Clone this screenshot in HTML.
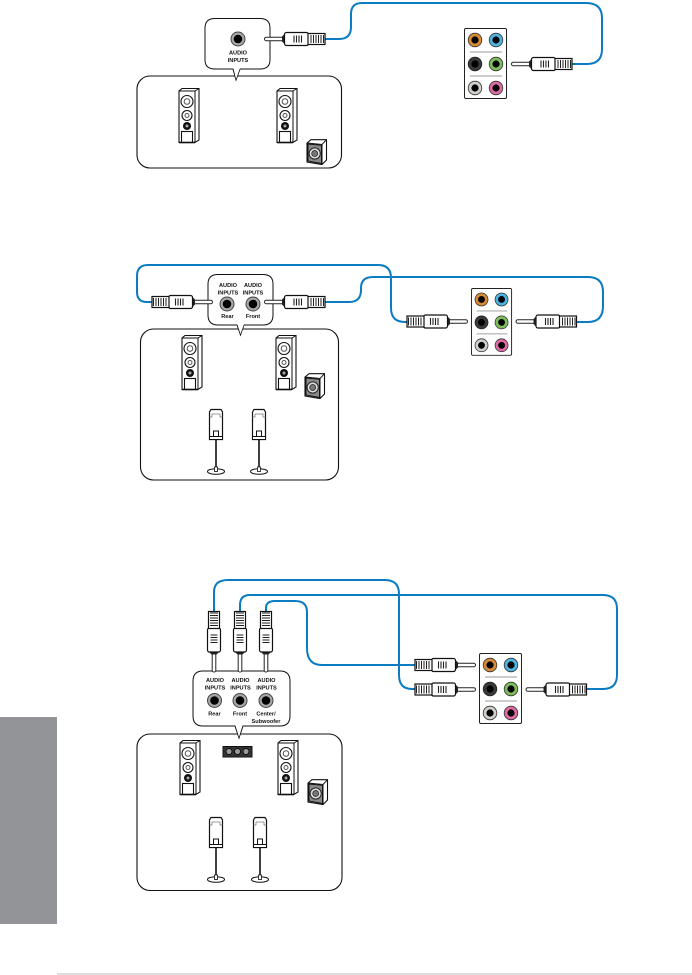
<!DOCTYPE html>
<html lang="en">
<head>
<meta charset="utf-8">
<title>Audio connections</title>
<style>
html,body{margin:0;padding:0;background:#fff}
body{width:692px;height:975px;overflow:hidden}
svg{display:block}
text{font-family:"Liberation Sans",sans-serif;font-weight:700;font-size:5.6px;text-anchor:middle;fill:#111}
</style>
</head>
<body>
<svg width="692" height="975" viewBox="0 0 692 975" xmlns="http://www.w3.org/2000/svg">
<defs>
  <g id="plug">
    <rect x="0.5" y="-1.8" width="19" height="3.6" rx="1.8" fill="#fff" stroke="#222" stroke-width="1"/>
    <path d="M18,-2.500 L21,-5.500 V5.500 L18,2.500Z" fill="#222"/>
    <rect x="20.5" y="-6.500" width="24" height="13" rx="2" fill="#fff" stroke="#111" stroke-width="1.2"/>
    <path d="M30,-3.500V3.500M32.500,-3.500V3.500M35,-3.500V3.500M37.500,-3.500V3.500" stroke="#222" stroke-width="1.1"/>
    <rect x="44" y="-5.500" width="17" height="11" fill="#fff" stroke="#111" stroke-width="1.2"/>
    <path d="M47,-4V4M49.500,-4V4M52,-4V4M54.500,-4V4M57,-4V4M59.500,-4V4" stroke="#222" stroke-width="1"/>
  </g>
  <g id="tower">
    <path d="M4,0.500 H21 V52 L17,54.500 H1 V3Z" fill="#fff" stroke="#111" stroke-width="1.100"/>
    <path d="M1,3 H17 V54.500 M17,3 L21,0.500" fill="none" stroke="#111" stroke-width="1"/>
    <circle cx="9" cy="13.500" r="6" fill="#fff" stroke="#111" stroke-width="1.100"/>
    <circle cx="9" cy="13.500" r="2.800" fill="#fff" stroke="#555" stroke-width="1"/>
    <circle cx="9" cy="27.500" r="5" fill="#fff" stroke="#111" stroke-width="1.100"/>
    <circle cx="9" cy="27.500" r="2" fill="#fff" stroke="#555" stroke-width="1"/>
    <circle cx="9" cy="38" r="4" fill="#111"/>
    <circle cx="9" cy="38" r="1.500" fill="#aaa"/>
    <rect x="3.500" y="43.500" width="11" height="11" fill="#fff" stroke="#111" stroke-width="1.100"/>
    <path d="M1,54.500H17" stroke="#111" stroke-width="1.600"/>
  </g>
  <g id="sub">
    <path d="M1,4 L5,0.700 H20.500 V21 L16,25.500 L1,23Z" fill="#fff" stroke="#111" stroke-width="1.100"/>
    <path d="M1,4 L16,5.500 L20.500,0.700 M16,5.500 V25.500" fill="none" stroke="#111" stroke-width="1"/>
    <path d="M2,5 L15.500,6.300 V24.500 L2,22Z" fill="#8a8a8a" stroke="#111" stroke-width="1"/>
    <circle cx="8.700" cy="14.500" r="5.600" fill="#ddd" stroke="#222" stroke-width="1"/>
    <circle cx="8.700" cy="14.500" r="3" fill="#777" stroke="#222" stroke-width=".7"/>
  </g>
  <g id="sat">
    <path d="M-6.500,3 L-5,0.500 H5 L6.500,3 V30.500 H-6.500Z" fill="#fff" stroke="#111" stroke-width="1.200"/>
    <path d="M-6.500,8 H-4 V5 H4 V8 H6.500" fill="none" stroke="#777" stroke-width="0.700"/>
    <rect x="-2.500" y="22" width="5" height="6" fill="#fff" stroke="#111"/>
    <rect x="-6.500" y="27.500" width="13" height="3" fill="#fff" stroke="#111"/>
    <path d="M0,31V60" stroke="#111" stroke-width="1.600"/>
    <ellipse cx="0" cy="62.500" rx="8.500" ry="2.800" fill="#fff" stroke="#111"/>
    <rect x="-1.500" y="58" width="3" height="4.500" fill="#fff" stroke="#111" stroke-width=".8"/>
  </g>
  <g id="port">
    <circle r="7.500" fill="#444"/><circle r="6.500" fill="#a8a8a8"/><circle r="4.300" fill="#000"/>
  </g>
  <g id="ports">
    <rect x="0.500" y="0.500" width="42" height="70" rx="1.500" fill="#fff" stroke="#222" stroke-width="1"/>
    <path d="M6,24H38M6,48H38" stroke="#bbb" stroke-width="1.400"/>
    <circle cx="11" cy="12" r="6.800" fill="#d98b35" stroke="#333" stroke-width=".8"/><circle cx="11" cy="12" r="3.600" fill="#000"/>
    <circle cx="32" cy="12" r="6.800" fill="#4db5e3" stroke="#333" stroke-width=".8"/><circle cx="32" cy="12" r="3.600" fill="#000"/>
    <circle cx="11" cy="36" r="6.800" fill="#3a3a3a" stroke="#222" stroke-width=".8"/><circle cx="11" cy="36" r="3.600" fill="#000"/>
    <circle cx="32" cy="36" r="6.800" fill="#7fbf5b" stroke="#333" stroke-width=".8"/><circle cx="32" cy="36" r="3.600" fill="#000"/>
    <circle cx="11" cy="60" r="6.800" fill="#cfcfcc" stroke="#333" stroke-width=".8"/><circle cx="11" cy="60" r="3.600" fill="#000"/>
    <circle cx="32" cy="60" r="6.800" fill="#e06aa5" stroke="#333" stroke-width=".8"/><circle cx="32" cy="60" r="3.600" fill="#000"/>
  </g>
</defs>

<!-- side tab and footer rule -->
<rect x="0" y="717" width="57" height="207" fill="#929497"/>
<rect x="57" y="973" width="635" height="2" fill="#dcdddd"/>

<!-- Diagram 1 -->
<g fill="none" stroke="#0b7cc2" stroke-width="2">
  <path d="M325,39 H339 Q351,39 351,27 V14 Q351,3 362,3 H586 Q602,3 602,18 V49 Q602,64 587,64 H571"/>
</g>
<rect x="137" y="76" width="204.500" height="92" rx="13" fill="#fff" stroke="#111" stroke-width="1.100"/>
<path d="M215,18.500 H260 Q270,18.500 270,28 V60 Q270,69 260,69 H240 L236,80 L233,69 H215 Q205,69 205,60 V28 Q205,18.500 215,18.500Z" fill="#fff" stroke="#111" stroke-width="1"/>
<path d="M233.500,68 H240 L236,79Z" fill="#fff"/>
<use href="#port" x="238" y="39"/>
<text x="238" y="54.500">AUDIO</text>
<text x="238" y="62">INPUTS</text>
<use href="#plug" transform="translate(264,39)"/>
<use href="#ports" x="464" y="28"/>
<use href="#plug" transform="translate(511,64)"/>
<use href="#tower" x="178" y="88"/>
<use href="#tower" x="276" y="88"/>
<use href="#sub" x="306" y="139"/>

<!-- Diagram 2 -->
<g fill="none" stroke="#0b7cc2" stroke-width="2">
  <path d="M155,302 H147 Q137,302 137,292 V276 Q137,265 148,265 H378 Q391,265 391,278 V308 Q391,322 405,322 H409"/>
  <path d="M324,302 H349 Q361,302 361,290 V288 Q361,277 373,277 H588 Q603,277 603,292 V306 Q603,322 588,322 H575"/>
</g>
<rect x="140.500" y="329" width="198" height="151" rx="13" fill="#fff" stroke="#111" stroke-width="1.100"/>
<path d="M218,274.500 H263 Q273,274.500 273,284 V315 Q273,325 263,325 H244 L240.500,335 L237,325 H218 Q208,325 208,315 V284 Q208,274.500 218,274.500Z" fill="#fff" stroke="#111" stroke-width="1"/>
<path d="M237.500,324 H244 L240.500,334Z" fill="#fff"/>
<use href="#port" x="227" y="304"/>
<use href="#port" x="253" y="304"/>
<text x="228" y="287">AUDIO</text>
<text x="228" y="294.500">INPUTS</text>
<text x="253" y="287">AUDIO</text>
<text x="253" y="294.500">INPUTS</text>
<text x="227.500" y="318">Rear</text>
<text x="253" y="318">Front</text>
<use href="#plug" transform="translate(213,302) rotate(180)"/>
<use href="#plug" transform="translate(264,302)"/>
<use href="#ports" transform="translate(471,288) scale(.955)"/>
<use href="#plug" transform="translate(468,321.500) rotate(180)"/>
<use href="#plug" transform="translate(515.500,321.500)"/>
<use href="#tower" x="181" y="335"/>
<use href="#tower" x="275" y="335"/>
<use href="#sub" x="304" y="373"/>
<use href="#sat" x="216" y="409"/>
<use href="#sat" x="259" y="409"/>

<!-- Diagram 3 -->
<g fill="none" stroke="#0b7cc2" stroke-width="2">
  <path d="M214,613 V592 Q214,580 228,580 H385 Q399,580 399,594 V675 Q399,689 412,689 H415"/>
  <path d="M240,613 V605 Q240,595 250,595 H603 Q617,595 617,609 V675 Q617,689 603,689 H587"/>
  <path d="M266,613 V608 Q266,601 275,601 H295 Q307,601 307,612 V648 Q307,665 322,665 H415"/>
</g>
<rect x="137" y="734" width="205" height="156.500" rx="13" fill="#fff" stroke="#111" stroke-width="1.100"/>
<path d="M203,671 H280 Q290,671 290,681 V716 Q290,726 280,726 H243 L239,738 L235,726 H203 Q193,726 193,716 V681 Q193,671 203,671Z" fill="#fff" stroke="#111" stroke-width="1"/>
<path d="M235.500,725 H242.500 L239,737Z" fill="#fff"/>
<use href="#port" x="214.500" y="700.500"/>
<use href="#port" x="240" y="700.500"/>
<use href="#port" x="266" y="700.500"/>
<text x="215" y="682">AUDIO</text>
<text x="215" y="689.500">INPUTS</text>
<text x="240.500" y="682">AUDIO</text>
<text x="240.500" y="689.500">INPUTS</text>
<text x="266.500" y="682">AUDIO</text>
<text x="266.500" y="689.500">INPUTS</text>
<text x="214.500" y="715.500">Rear</text>
<text x="240" y="715.500">Front</text>
<text x="266" y="715.500">Center/</text>
<text x="266" y="722.800">Subwoofer</text>
<use href="#plug" transform="translate(214,672.500) rotate(-90)"/>
<use href="#plug" transform="translate(240,672.500) rotate(-90)"/>
<use href="#plug" transform="translate(266,672.500) rotate(-90)"/>
<use href="#ports" x="479" y="653"/>
<use href="#plug" transform="translate(476,665) rotate(180)"/>
<use href="#plug" transform="translate(476,689.500) rotate(180)"/>
<use href="#plug" transform="translate(525.500,689.500)"/>
<use href="#tower" x="179" y="740"/>
<use href="#tower" x="277" y="740"/>
<use href="#sub" x="307" y="779"/>
<g>
  <rect x="223" y="746.500" width="29" height="10.500" fill="#333" stroke="#111"/>
  <circle cx="229" cy="751.500" r="3" fill="#999" stroke="#000" stroke-width=".8"/>
  <circle cx="237.500" cy="751.500" r="3" fill="#999" stroke="#000" stroke-width=".8"/>
  <circle cx="246" cy="751.500" r="3" fill="#999" stroke="#000" stroke-width=".8"/>
</g>
<use href="#sat" x="216" y="817"/>
<use href="#sat" x="260" y="817"/>
</svg>
</body>
</html>
